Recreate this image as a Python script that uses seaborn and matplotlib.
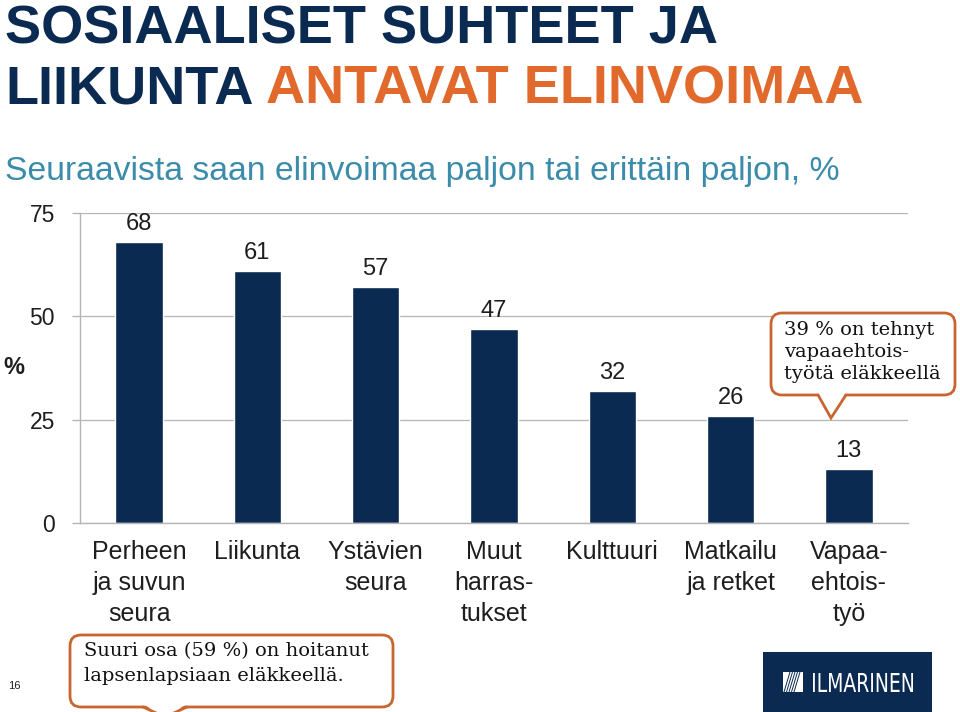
import matplotlib
matplotlib.use("Agg")
import matplotlib.pyplot as plt
import seaborn as sns
import pandas as pd
from matplotlib.patches import FancyBboxPatch, Polygon, Rectangle, PathPatch
from matplotlib.textpath import TextPath
from matplotlib.font_manager import FontProperties
from matplotlib.transforms import Affine2D
from matplotlib.lines import Line2D

# ---- data ----
categories = ["Perheen\nja suvun\nseura", "Liikunta", "Ystävien\nseura",
              "Muut\nharras-\ntukset", "Kulttuuri", "Matkailu\nja retket",
              "Vapaa-\nehtois-\ntyö"]
values = [68, 61, 57, 47, 32, 26, 13]
yticks = [0, 25, 50, 75]

title_line1 = "SOSIAALISET SUHTEET JA"
title_line2a = "LIIKUNTA"
title_line2b = "ANTAVAT ELINVOIMAA"
subtitle = "Seuraavista saan elinvoimaa paljon tai erittäin paljon, %"
callout1 = "39 % on tehnyt\nvapaaehtois-\ntyötä eläkkeellä"
callout2 = "Suuri osa (59 %) on hoitanut\nlapsenlapsiaan eläkkeellä."

NAVY = "#0B2A52"
ORANGE = "#E2692C"
TEAL = "#3B8CAA"
EDGE = "#C9652E"
GRID = "#B5B5B5"
TXT = "#1E1E1E"

W, H = 960, 712
sns.set_theme(style="white")
plt.rcParams['font.family'] = ['Liberation Sans', 'DejaVu Sans']

fig = plt.figure(figsize=(W / 100, H / 100), dpi=100)
fig.patch.set_facecolor("white")
T = Affine2D().scale(1 / W, -1 / H).translate(0, 1) + fig.transFigure


def fx(x):
    return x / W


def fy(y):
    return 1 - y / H


ax = fig.add_axes([fx(80), fy(523), fx(908) - fx(80), fy(213) - fy(523)])
df = pd.DataFrame({"cat": categories, "val": values})
sns.barplot(data=df, x="cat", y="val", color=NAVY, width=0.4, saturation=1, ax=ax)
ax.bar_label(ax.containers[0], labels=[str(v) for v in values], padding=5,
             fontsize=17, color=TXT)

ax.set_xlim(-0.5, len(categories) - 0.5)
ax.set_ylim(0, 75)
ax.set_yticks(yticks)
ax.set_yticklabels([str(t) for t in yticks], fontsize=16.5, color=TXT)
ax.set_xticks(range(len(categories)))
ax.set_xticklabels(categories, fontsize=18, color=TXT, linespacing=1.37)
ax.set_xticks([i - 0.5 for i in range(len(categories) + 1)], minor=True)
ax.tick_params(axis='x', which='major', length=0, pad=12)
ax.tick_params(axis='x', which='minor', length=6, width=1, color=GRID, direction='out')
ax.tick_params(axis='y', length=6, width=1, color=GRID, direction='out', pad=12, left=True)
ax.set_xlabel("")
ax.set_ylabel("")
ax.yaxis.grid(True, color=GRID, lw=0.9)
ax.set_axisbelow(True)
for s in ["top", "right"]:
    ax.spines[s].set_visible(False)
for s in ["left", "bottom"]:
    ax.spines[s].set_color(GRID)
    ax.spines[s].set_linewidth(1)

fig.text(3, 368, "%", transform=T, fontsize=17, weight='bold', color=TXT,
         va='center', ha='left')

# ---- titles ----
fig.text(5, 43, title_line1, transform=T, fontsize=39, weight='bold', color=NAVY,
         va='baseline', ha='left')
t2 = fig.text(5, 104, title_line2a, transform=T, fontsize=39, weight='bold', color=NAVY,
              va='baseline', ha='left')
fig.canvas.draw()
bb = t2.get_window_extent(renderer=fig.canvas.get_renderer())
fig.text(bb.x1 + 12, 104, title_line2b, transform=T, fontsize=39, weight='bold',
         color=ORANGE, va='baseline', ha='left')
fig.text(5, 180, subtitle, transform=T, fontsize=24.3, color=TEAL, va='baseline', ha='left')
fig.text(8, 686, "16", transform=T, fontsize=8, color=TXT, va='center', ha='left')


# ---- callouts ----
def callout(x0, y0, x1, y1, tl, tr, tip, text, tx, ty, ls):
    box = FancyBboxPatch((x0, y0), x1 - x0, y1 - y0,
                         boxstyle="round,pad=0,rounding_size=11",
                         transform=T, facecolor="white", edgecolor=EDGE, lw=2)
    fig.patches.append(box)
    tail = Polygon([(tl, y1 - 3), (tr, y1 - 3), tip], closed=True, transform=T,
                   facecolor="white", edgecolor="none")
    fig.patches.append(tail)
    ln = Line2D([tl, tip[0], tr], [y1, tip[1], y1], transform=T, color=EDGE, lw=2,
                solid_joinstyle='miter')
    fig.lines.append(ln)
    fig.text(tx, ty, text, transform=T, fontsize=14, family='DejaVu Serif',
             color="#111111", va='top', ha='left', linespacing=ls)


callout(771, 313, 955, 395, 818, 846, (831, 418), callout1, 784, 321, 1.3)
callout(70, 635, 393, 707, 143, 187, (165, 717), callout2, 84, 642, 1.5)

# ---- logo ----
fig.patches.append(Rectangle((763, 652), 169, 70, transform=T, facecolor=NAVY,
                             edgecolor='none'))
fig.patches.append(Rectangle((783, 672), 20, 20, transform=T, facecolor='white',
                             edgecolor='none'))
for i in range(5):
    fig.lines.append(Line2D([784 + 2.5 * i, 790 + 2.5 * i], [692, 672], transform=T,
                            color=NAVY, lw=0.7))
tp = TextPath((0, 0), "ILMARINEN", size=50, prop=FontProperties(family='DejaVu Sans'))
ext = tp.get_extents()
sx = 100 / ext.width
sy = 19 / ext.height
tr = Affine2D().translate(-ext.x0, -ext.y0).scale(sx, -sy).translate(813, 692) + T
fig.patches.append(PathPatch(tp, transform=tr, facecolor='white', edgecolor='none'))

fig.savefig("out.png", dpi=100)
